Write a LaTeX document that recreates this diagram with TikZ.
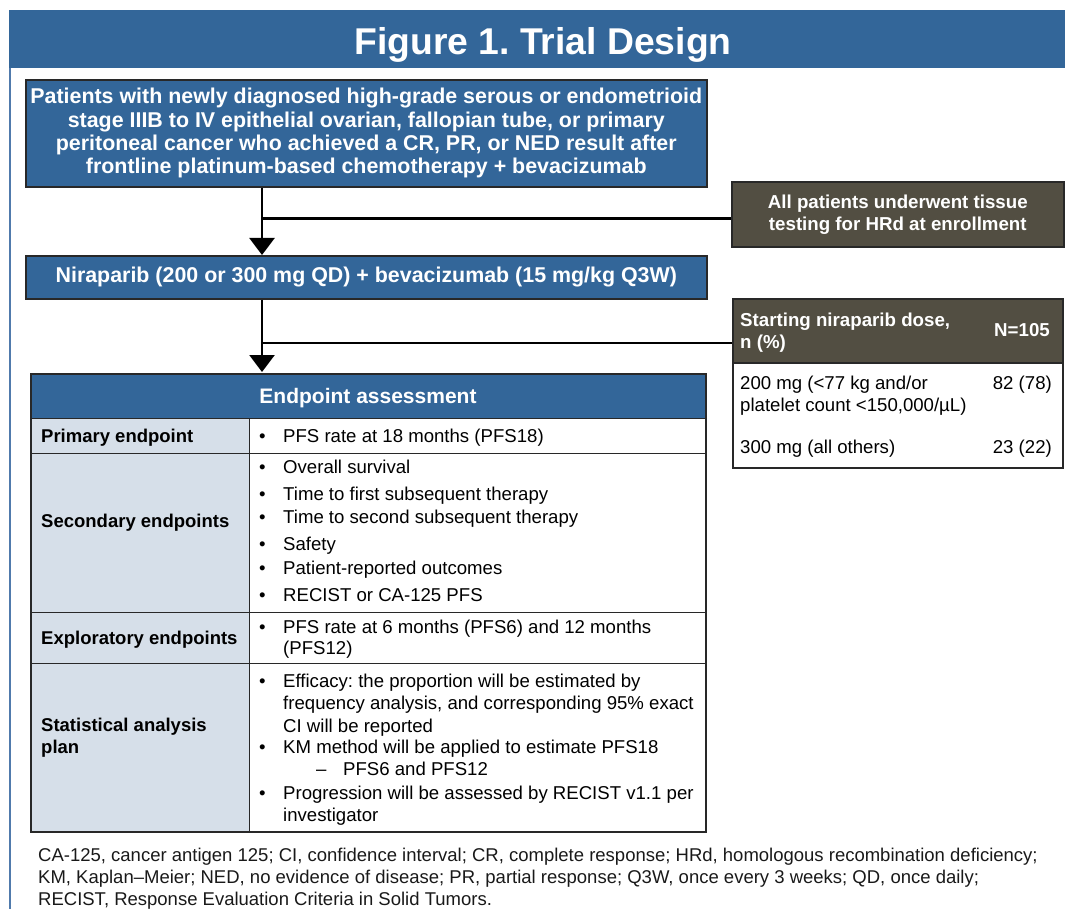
\documentclass[tikz,border=0pt]{standalone}
\usepackage{fontspec}
\setmainfont{Liberation Sans}
\usetikzlibrary{arrows.meta,calc}
\definecolor{tblue}{RGB}{51,102,153}
\definecolor{tbrown}{RGB}{82,78,66}
\definecolor{lcol}{RGB}{214,223,233}
\definecolor{sideblue}{RGB}{80,122,172}
\definecolor{edge}{RGB}{40,40,40}
\frenchspacing
\begin{document}
\frenchspacing
\begin{tikzpicture}[x=1pt,y=-1pt,
  box/.style={draw=edge,line width=1.6pt,inner sep=0pt,anchor=north west},
  bluebox/.style={box,fill=tblue,text=white,align=center},
  brownbox/.style={box,fill=tbrown,text=white,align=center},
  lcell/.style={draw=edge,line width=1.3pt,fill=lcol,inner sep=0pt,anchor=north west},
  rcell/.style={draw=edge,line width=1.3pt,fill=white,inner sep=0pt,anchor=north west},
  conn/.style={draw=black,line width=2.6pt},
  arr/.style={conn,-{Triangle[width=25pt,length=17pt]}},
  lab/.style={font=\fontsize{18.5}{22}\selectfont\bfseries,anchor=base west,inner sep=0pt},
  itm/.style={font=\fontsize{18.6}{22}\selectfont,anchor=base west,inner sep=0pt},
  bul/.style={font=\fontsize{18.6}{22}\selectfont,anchor=base west,inner sep=0pt},
  foot/.style={font=\fontsize{18.5}{21}\selectfont,anchor=base west,inner sep=0pt,text=black!90}
]
\useasboundingbox (0,0) rectangle (1065,909);
% side line and title bar
\draw[sideblue,line width=2.4pt] (9.8,12) -- (9.8,909);
\node[fill=tblue,inner sep=0pt,anchor=north west,minimum width=1056pt,minimum height=58pt] (bar) at (9,10) {};
\node[font=\fontsize{37.3}{40}\selectfont\bfseries,text=white,anchor=base,inner sep=0pt] (title) at (543,55) {Figure 1. Trial Design};

% flow boxes
\node[bluebox,minimum width=681pt,minimum height=107pt,font=\fontsize{21.4}{23.3}\selectfont\bfseries] (pat) at (25,79)
 {Patients with newly diagnosed high-grade serous or endometrioid\\
  stage IIIB to IV epithelial ovarian, fallopian tube, or primary\\
  peritoneal cancer who achieved a CR, PR, or NED result after\\
  frontline platinum-based chemotherapy + bevacizumab};
\node[bluebox,minimum width=681pt,minimum height=43pt,font=\fontsize{21.4}{24}\selectfont\bfseries] (nir) at (25,255)
 {Niraparib (200 or 300 mg QD) + bevacizumab (15 mg/kg Q3W)};
\node[brownbox,minimum width=332pt,minimum height=65pt,font=\fontsize{18.7}{22}\selectfont\bfseries] (hrd) at (731,181)
 {All patients underwent tissue\\testing for HRd at enrollment};

% dose box
\node[box,fill=white,minimum width=330pt,minimum height=169pt] (dose) at (732,298) {};
\node[box,fill=tbrown,minimum width=330pt,minimum height=64pt] (doseh) at (732,298) {};
\node[lab,text=white,font=\fontsize{18.7}{22}\selectfont\bfseries] (dh1) at (740,326.5) {Starting niraparib dose,};
\node[lab,text=white,font=\fontsize{18.7}{22}\selectfont\bfseries] (dh2) at (740,348.5) {n (\%)};
\node[lab,text=white,anchor=base east,font=\fontsize{18.7}{22}\selectfont\bfseries] (dh3) at (1050,336.5) {N=105};
\node[itm] (d1) at (740,389.5) {200 mg (<77 kg and/or};
\node[itm] (d2) at (740,411.5) {platelet count <150,000/µL)};
\node[itm,anchor=base east] (d3) at (1052,389.5) {82 (78)};
\node[itm] (d4) at (740,453.5) {300 mg (all others)};
\node[itm,anchor=base east] (d5) at (1052,453.5) {23 (22)};

% endpoint table
\node[box,fill=tblue,minimum width=674pt,minimum height=44pt,line width=1.3pt] (hdr) at (31,374) {};
\node[font=\fontsize{21}{24}\selectfont\bfseries,text=white,anchor=base,inner sep=0pt] (hdrt) at (368,403.5) {Endpoint assessment};
\node[lcell,minimum width=218pt,minimum height=35pt] (l1) at (31,418) {};
\node[rcell,minimum width=456pt,minimum height=35pt] (r1) at (249,418) {};
\node[lcell,minimum width=218pt,minimum height=159pt] (l2) at (31,453) {};
\node[rcell,minimum width=456pt,minimum height=159pt] (r2) at (249,453) {};
\node[lcell,minimum width=218pt,minimum height=51pt] (l3) at (31,612) {};
\node[rcell,minimum width=456pt,minimum height=51pt] (r3) at (249,612) {};
\node[lcell,minimum width=218pt,minimum height=168pt] (l4) at (31,663) {};
\node[rcell,minimum width=456pt,minimum height=168pt] (r4) at (249,663) {};
\draw[edge,line width=1.8pt] (hdr.north west) rectangle (r4.south east);

\node[lab] (lt1) at (41,442.5) {Primary endpoint};
\node[lab] (lt2) at (41,527.5) {Secondary endpoints};
\node[lab] (lt3) at (41,644.5) {Exploratory endpoints};
\node[lab] (lt4a) at (41,731.5) {Statistical analysis};
\node[lab] (lt4b) at (41,753.5) {plan};

% primary
\node[bul] (pb1) at (259,442.5) {•};
\node[itm] (p1) at (283,442.5) {PFS rate at 18 months (PFS18)};
% secondary
\node[bul] (sb1) at (259,473.5) {•};
\node[itm] (s1) at (283,473.5) {Overall survival};
\node[bul] (sb2) at (259,500.5) {•};
\node[itm] (s2) at (283,500.5) {Time to first subsequent therapy};
\node[bul] (sb3) at (259,523.5) {•};
\node[itm] (s3) at (283,523.5) {Time to second subsequent therapy};
\node[bul] (sb4) at (259,550.5) {•};
\node[itm] (s4) at (283,550.5) {Safety};
\node[bul] (sb5) at (259,574.5) {•};
\node[itm] (s5) at (283,574.5) {Patient-reported outcomes};
\node[bul] (sb6) at (259,601.5) {•};
\node[itm] (s6) at (283,601.5) {RECIST or CA-125 PFS};
% exploratory
\node[bul] (eb1) at (259,633.5) {•};
\node[itm] (e1) at (283,633.5) {PFS rate at 6 months (PFS6) and 12 months};
\node[itm] (e2) at (283,654.5) {(PFS12)};
% statistical
\node[bul] (tb1) at (259,687.5) {•};
\node[itm] (t1) at (283,687.5) {Efficacy: the proportion will be estimated by};
\node[itm] (t2) at (283,709.5) {frequency analysis, and corresponding 95\% exact};
\node[itm] (t3) at (283,732.5) {CI will be reported};
\node[bul] (tb2) at (259,753.5) {•};
\node[itm] (t4) at (283,753.5) {KM method will be applied to estimate PFS18};
\node[itm] (td) at (316,775.5) {–};
\node[itm] (t5) at (343,775.5) {PFS6 and PFS12};
\node[bul] (tb3) at (259,799.5) {•};
\node[itm] (t6) at (283,799.5) {Progression will be assessed by RECIST v1.1 per};
\node[itm] (t7) at (283,821.5) {investigator};

% connectors
\coordinate (j1) at (262,218.5);
\coordinate (j2) at (262,343);
\draw[arr] (pat.south -| j1) -- (nir.north -| j1);
\draw[conn] (j1) -- (j1 -| hrd.west);
\draw[arr] (nir.south -| j2) -- ($(hdr.north -| j2)+(0,-2)$);
\draw[conn] (j2) -- (j2 -| dose.west);

% footnote
\node[foot] (f1) at (38,861) {CA-125, cancer antigen 125; CI, confidence interval; CR, complete response; HRd, homologous recombination deficiency;};
\node[foot] (f2) at (38,883) {KM, Kaplan–Meier; NED, no evidence of disease; PR, partial response; Q3W, once every 3 weeks; QD, once daily;};
\node[foot] (f3) at (38,905) {RECIST, Response Evaluation Criteria in Solid Tumors.};
\end{tikzpicture}
\end{document}
